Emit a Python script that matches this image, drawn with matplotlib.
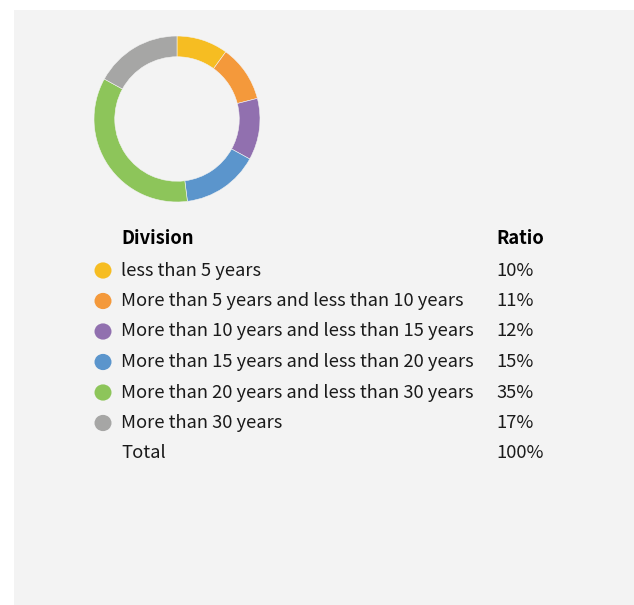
import matplotlib
matplotlib.use("Agg")
import matplotlib.pyplot as plt
from matplotlib.patches import Rectangle, Circle

# ─── Data ────────────────────────────────────────────────────────────────────
divisions = [
    "less than 5 years",
    "More than 5 years and less than 10 years",
    "More than 10 years and less than 15 years",
    "More than 15 years and less than 20 years",
    "More than 20 years and less than 30 years",
    "More than 30 years",
]
ratios = [10, 11, 12, 15, 35, 17]
colors = ["#F6BD22", "#F4993B", "#9170AF", "#5B95CC", "#8DC55A", "#A6A6A5"]

W, H = 634, 605
BG = "#F3F3F3"
FONT = ["Noto Sans CJK KR", "DejaVu Sans"]

fig = plt.figure(figsize=(W / 100, H / 100), dpi=100)
fig.patch.set_facecolor("white")

# grey panel
fig.add_artist(Rectangle((14 / W, 0), 1 - 14 / W, (H - 10) / H,
                         transform=fig.transFigure, facecolor=BG,
                         edgecolor="none", zorder=0))

# ─── Donut ───────────────────────────────────────────────────────────────────
cx, cy, r = 177, 119, 83
ax = fig.add_axes([(cx - r) / W, (H - cy - r) / H, 2 * r / W, 2 * r / H])
ax.pie(ratios, colors=colors, startangle=90, counterclock=False, radius=1,
       wedgeprops=dict(width=0.25, edgecolor=BG, linewidth=0.4))
ax.set_xlim(-1, 1); ax.set_ylim(-1, 1)
ax.set_aspect("equal")
ax.axis("off")

# ─── Table legend ────────────────────────────────────────────────────────────
def px(x, y):
    return x / W, 1 - y / H

x_txt, x_ratio, x_dot = 121, 496, 103
y0, dy = 270.5, 30.5
fs = 13.2
TXT = "#1a1a1a"

fig.text(*px(x_txt, 238.5), "Division", fontsize=fs, fontweight="bold",
         family=FONT, va="center", ha="left", color="#000000")
fig.text(*px(x_ratio, 238.5), "Ratio", fontsize=fs, fontweight="bold",
         family=FONT, va="center", ha="left", color="#000000")

for i, (lab, val, c) in enumerate(zip(divisions, ratios, colors)):
    y = y0 + i * dy
    fig.add_artist(Circle(px(x_dot, y), 8.5 / W, transform=fig.transFigure,
                          facecolor=c, edgecolor="none"))
    fig.text(*px(x_txt, y), lab, fontsize=fs, family=FONT,
             va="center", ha="left", color=TXT)
    fig.text(*px(x_ratio, y), f"{val}%", fontsize=fs, family=FONT,
             va="center", ha="left", color=TXT)

y = y0 + len(divisions) * dy
fig.text(*px(x_txt, y), "Total", fontsize=fs, family=FONT,
         va="center", ha="left", color=TXT)
fig.text(*px(x_ratio, y), f"{sum(ratios)}%", fontsize=fs, family=FONT,
         va="center", ha="left", color=TXT)

fig.savefig("out.png", dpi=100, facecolor=fig.get_facecolor())
